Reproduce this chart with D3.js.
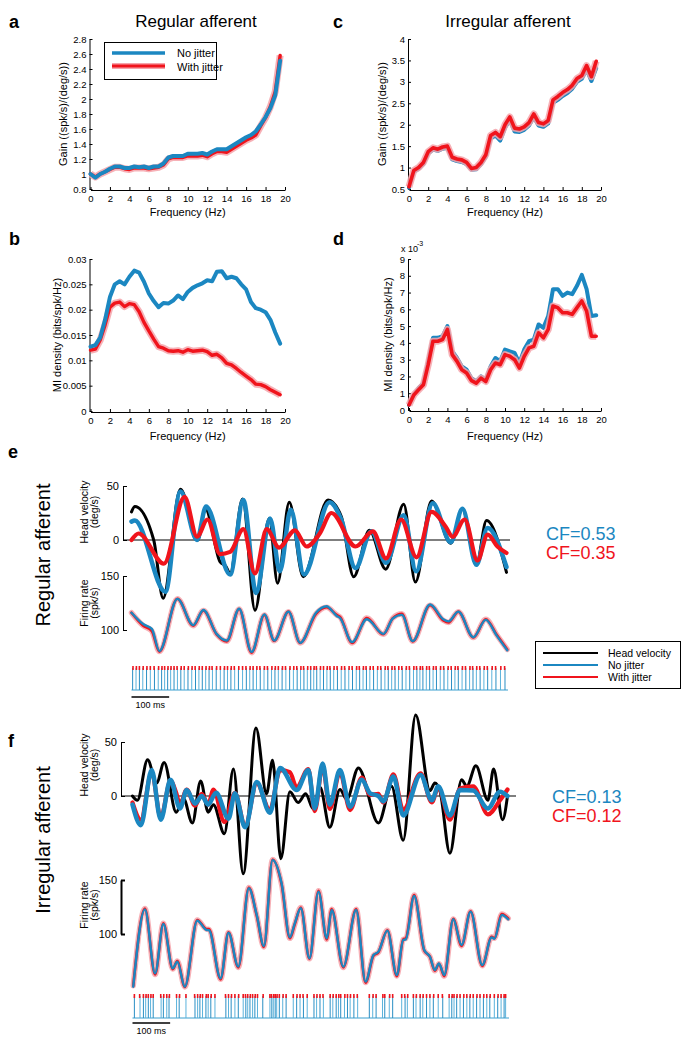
<!DOCTYPE html>
<html><head><meta charset="utf-8">
<script src="https://cdn.jsdelivr.net/npm/d3@7"></script>
<style>
body{margin:0;background:#fff}
text{font-family:"Liberation Sans",Arial,Helvetica,sans-serif;fill:#000}
</style>
</head><body>
<svg id="c" width="690" height="1043"></svg>
<script>
// ---------------- DATA ----------------
const freqs = [0,0.5,1,1.5,2,2.5,3,3.5,4,4.5,5,5.5,6,6.5,7,7.5,8,8.5,9,9.5,10,10.5,11,11.5,12,12.5,13,13.5,14,14.5,15,15.5,16,16.5,17,17.5,18,18.5,19,19.5];
const freqTicks = [0,2,4,6,8,10,12,14,16,18,20];

// a: gain, regular afferent
const gainRegNoJitter = [1.00,0.95,1.00,1.03,1.07,1.10,1.10,1.08,1.08,1.10,1.09,1.10,1.08,1.10,1.10,1.14,1.22,1.24,1.24,1.24,1.27,1.27,1.27,1.28,1.26,1.30,1.33,1.33,1.33,1.37,1.41,1.45,1.49,1.52,1.57,1.66,1.76,1.88,2.05,2.51];
const gainRegJitter   = [1.00,0.96,1.00,1.03,1.06,1.09,1.09,1.07,1.06,1.08,1.08,1.08,1.07,1.08,1.09,1.12,1.20,1.22,1.22,1.22,1.24,1.24,1.24,1.25,1.23,1.27,1.30,1.30,1.29,1.33,1.37,1.41,1.45,1.48,1.52,1.64,1.75,1.90,2.10,2.58];
const gainRegTicks = [0.8,1,1.2,1.4,1.6,1.8,2,2.2,2.4,2.6,2.8];

// b: MI density, regular afferent
const miRegNoJitter = [0.0127,0.0130,0.0145,0.0180,0.0225,0.0250,0.0256,0.0250,0.0265,0.0277,0.0273,0.0255,0.0232,0.0217,0.0205,0.0213,0.0212,0.0218,0.0228,0.0221,0.0235,0.0243,0.0248,0.0252,0.0258,0.0256,0.0275,0.0276,0.0262,0.0265,0.0262,0.0250,0.0240,0.0215,0.0203,0.0200,0.0195,0.0180,0.0155,0.0133];
const miRegJitter   = [0.0120,0.0122,0.0140,0.0170,0.0205,0.0213,0.0215,0.0206,0.0212,0.0210,0.0196,0.0175,0.0158,0.0142,0.0127,0.0124,0.0119,0.0118,0.0119,0.0116,0.0121,0.0118,0.0119,0.0120,0.0117,0.0110,0.0112,0.0105,0.0094,0.0091,0.0084,0.0076,0.0069,0.0062,0.0053,0.0052,0.0048,0.0042,0.0037,0.0032];
const miRegTicks = [0,0.005,0.01,0.015,0.02,0.025,0.03];

// c: gain, irregular afferent
const gainIrrNoJitter = [0.53,0.90,0.97,1.08,1.33,1.42,1.39,1.44,1.46,1.19,1.15,1.13,1.08,0.95,0.96,1.08,1.25,1.68,1.75,1.63,1.93,2.11,1.84,1.83,1.88,1.98,2.18,1.98,1.95,2.03,2.51,2.58,2.67,2.74,2.84,3.00,3.07,3.29,3.02,3.32];
const gainIrrJitter   = [0.55,0.93,1.00,1.12,1.37,1.46,1.43,1.48,1.50,1.24,1.20,1.18,1.12,0.98,1.00,1.12,1.30,1.75,1.82,1.72,2.00,2.18,1.92,1.90,1.95,2.05,2.25,2.05,2.02,2.10,2.58,2.66,2.75,2.82,2.92,3.08,3.15,3.38,3.12,3.48];
const gainIrrTicks = [0.5,1,1.5,2,2.5,3,3.5,4];

// d: MI density (x10^-3), irregular afferent
const miIrrNoJitter = [0.3,0.9,1.3,1.6,2.9,4.3,4.3,4.4,5.0,3.5,3.1,2.6,2.4,1.9,1.7,2.0,1.8,2.6,3.1,2.9,3.6,3.5,3.4,2.8,3.6,4.1,4.2,5.1,4.9,5.6,7.2,7.2,6.8,7.0,6.9,7.4,8.05,7.2,5.6,5.65];
const miIrrJitter   = [0.3,0.9,1.2,1.5,2.7,4.1,4.1,4.2,4.8,3.3,2.9,2.4,2.2,1.75,1.6,1.9,1.7,2.4,2.8,2.7,3.3,3.2,3.0,2.5,3.2,3.7,3.8,4.6,4.3,4.8,6.2,6.1,5.8,5.8,5.7,6.1,6.5,5.9,4.4,4.4];
const miIrrTicks = [0,1,2,3,4,5,6,7,8,9];

// e: regular afferent time traces (time ms, value)
const eHeadVelocity = [[0,26],[9,31],[59,0],[84,-54],[130,47],[176,0],[196,29],[235,-20],[250,-24],[262,-31],[295,38],[328,-65],[366,20],[388,-40],[419,35],[456,-34],[522,37],[557,22],[590,-34],[632,9],[675,-27],[723,33],[754,-39],[797,36],[848,-3],[879,29],[916,-23],[943,18],[996,-30]];
const eNoJitterEst = [[0,17],[9,18],[90,-48],[130,45],[174,0],[198,31],[262,-32],[297,37],[331,-49],[368,20],[394,-29],[423,28],[458,-32],[526,35],[557,19],[595,-26],[637,8],[676,-21],[723,23],[756,-29],[800,34],[848,-2],[879,29],[916,-23],[946,11],[996,-25]];
const eJitterEst = [[0,0],[19,6],[86,-22],[141,40],[174,3],[202,19],[235,-13],[262,-11],[297,10],[328,-31],[359,10],[392,-7],[434,9],[465,-6],[500,6],[531,25],[595,-6],[641,8],[676,-17],[716,19],[757,-16],[797,26],[835,12],[853,3],[885,19],[919,-19],[946,5],[972,-6],[996,-12]];
const eRateNoJitter = [[0,116],[31,105.5],[54,101],[74,80.6],[122,128.8],[164,104.5],[191,118.5],[226,96.4],[253,90.3],[286,119.7],[319,79.7],[353,114.5],[379,90.3],[417,117],[448,88.2],[490,116],[518,122],[545,113],[554,111],[586,88.8],[625,110],[669,96.4],[694,110.6],[718,114],[747,89.7],[793,123.6],[828,110],[842,108],[868,117],[908,93.3],[941,109.4],[970,94.8],[998,81.2]];
const eRateJitter   = [[0,116],[31,104],[54,99],[74,80],[122,129],[164,104],[191,118],[226,96],[253,89.5],[286,119.5],[319,79],[353,114],[379,90],[417,117],[448,88],[490,115],[518,121],[545,114],[554,112],[586,88],[625,111],[669,96],[694,111],[718,115],[747,89.5],[793,123],[828,109],[842,107],[868,117],[908,93],[941,110],[970,95.5],[998,82]];
const eSpikesNoJitter = [3,12,21,30,40,50,61,71,80,88,96,104,113,122,131,140,150,160,170,179,188,197,206,215,225,236,246,255,264,274,284,295,305,314,323,332,342,352,362,372,381,390,400,410,420,430,440,449,458,467,476,484,492,501,510,519,528,537,547,557,567,577,587,597,606,615,624,633,643,653,663,673,682,691,700,709,719,729,739,749,758,766,774,783,792,801,810,820,830,840,850,859,868,878,888,898,907,916,926,936,946,957,968,980,992];
const eSpikesJitter = [4,13,21,31,41,50,60,72,81,88,97,105,113,121,132,140,151,161,169,180,188,198,207,214,226,236,247,255,265,273,285,295,304,315,323,333,341,353,361,373,382,390,401,409,421,431,439,450,457,468,476,485,491,502,510,520,527,538,546,558,566,578,586,598,605,616,623,634,642,654,662,674,681,692,699,710,718,730,738,750,757,767,773,784,791,802,809,821,829,841,849,860,867,879,887,899,906,917,925,937,945,958,967,981,991];

// f: irregular afferent time traces
const fHeadVelocity = [[0,0],[13,-4],[40,33.5],[64,12],[84,31],[116,-15],[135,-2],[159,-25],[181,14],[201,-15],[215,-8],[244,-35],[268,25],[294,-72],[328,63],[356,2],[372,33],[394,-58],[418,4],[440,-6],[460,2],[480,-12],[498,8],[524,-29],[551,6],[569,-3],[600,26],[653,-25],[688,9],[719,-41],[752,75],[790,5],[803,12],[817,4],[843,-53],[874,15],[888,9],[912,28],[944,-4],[959,25],[983,-22],[996,0]];
const fNoJitterEst = [[0,-8],[22,-27],[51,24],[75,-22],[101,15],[126,-11.5],[144,5.6],[166,-7],[184,0],[201,-8],[222,3],[255,-21],[272,2.5],[299,-29],[330,13],[365,-15.5],[392,26],[436,5.6],[467,24],[484,-11.5],[505,30],[524,-8],[551,24],[578,-10],[609,15],[631,2.5],[653,0],[666,-5],[693,18],[719,-18],[765,19.5],[795,-4],[812,9],[843,-18],[870,5.6],[905,5],[944,-11.5],[976,4],[996,0]];
const fJitterEst = [[0,-6],[22,-22],[51,22],[75,-20],[101,14],[116,3],[126,-8],[144,6],[166,-9],[184,2],[201,-8],[215,6],[244,-24],[272,3],[299,-28],[330,12],[365,-13],[392,24],[418,22],[436,8],[467,25],[484,-14],[505,28],[524,-12],[551,22],[578,-13],[609,17],[631,1],[653,2],[666,-6],[693,20],[719,-13],[765,21],[795,-6],[812,8],[843,-22],[870,7],[905,9],[944,-17],[976,-4],[996,6]];
const fRateNoJitter = [[2,51.2],[33,122.8],[60,63.6],[82,109.3],[107,68.2],[119,74.4],[139,51.2],[172,112.3],[197,103.7],[203,103.5],[234,59],[255,101.2],[281,69.8],[309,142.3],[330,117.6],[349,88.9],[372,168.5],[396,146.9],[418,96.9],[431,109.9],[447,123.8],[470,77.5],[494,139.2],[516,96],[529,122.2],[560,69.8],[594,122.2],[619,55.9],[640,80.6],[653,83.6],[677,103.1],[702,62],[719,94.4],[726,95],[748,135.2],[775,85.2],[790,79],[803,66.7],[814,72.8],[828,62],[852,113.6],[874,89.8],[898,120.7],[929,71.3],[954,96.9],[961,95.5],[981,117.6],[998,113.6]];
const fRateJitter   = [[2,52],[33,123.5],[60,62.5],[82,110],[107,67.5],[119,75],[139,51],[172,113],[197,104.5],[203,104.5],[234,58],[255,101.5],[281,69],[309,143],[330,117],[349,88],[372,169],[396,146],[418,96],[431,109],[447,124.5],[470,77],[494,140],[516,95],[529,123],[560,69],[594,123],[619,55],[640,80],[653,83],[677,103.5],[702,61],[719,95],[726,96],[748,136],[775,84.5],[790,79],[803,66],[814,72.5],[828,61],[852,114],[874,89],[898,121],[929,70.5],[954,97.5],[961,96],[981,118.5],[998,114.5]];
const fSpikesNoJitter = [5,20,29,35,42,48,55,76,82,91,97,117,124,142,166,173,179,186,195,201,208,219,248,255,262,272,281,294,301,306,312,319,325,332,346,365,370,374,379,383,390,399,408,427,436,445,454,464,482,489,498,507,525,532,541,547,553,563,571,578,588,598,629,638,647,664,670,682,691,715,724,730,746,753,764,771,781,790,799,812,824,841,848,854,861,870,879,888,896,905,914,923,932,941,949,961,970,979,987,991];
const fSpikesJitter   = [5,19,29,36,42,49,55,75,83,91,98,117,125,142,165,173,180,186,196,201,209,219,247,255,263,272,282,294,300,306,313,319,326,332,347,365,369,375,379,384,390,400,408,427,437,445,453,464,482,490,498,506,525,533,541,548,553,564,571,579,588,597,629,639,647,665,670,683,691,715,723,731,746,754,764,772,781,790,800,812,823,841,849,854,862,870,880,888,897,905,915,923,933,941,950,961,971,979,987,991];

const hvTicks = [0,50];
const rateTicks = [100,150];

// ---------------- STYLE ----------------
const BLUE = "#1b87c1", RED = "#f0141c", PINK = "#f5a3aa", SPIKE = "#3b9fcf";
const FONT = '"Liberation Sans",Arial,Helvetica,sans-serif';
const svg = d3.select("#c");

function label(x, y, s, size, o = {}) {
  const t = svg.append("text").attr("x", x).attr("y", y).text(s)
    .style("font-size", size + "px").style("font-family", FONT)
    .attr("text-anchor", o.anchor || "start");
  if (o.bold) t.style("font-weight", "bold");
  if (o.fill) t.style("fill", o.fill);
  if (o.rot) t.attr("transform", `rotate(-90,${x},${y})`);
  return t;
}
function styleAxis(g, size) {
  g.selectAll(".domain").attr("stroke", "#000").attr("stroke-width", 1);
  g.selectAll(".tick line").attr("stroke", "#000");
  g.selectAll("text").style("font-size", size + "px").style("font-family", FONT).attr("fill", "#000");
  g.attr("font-family", null).attr("font-size", null);
}
const fmtNum = d => String(+d.toFixed(3));

// ---------------- FREQUENCY PANELS ----------------
function freqPanel(p) {
  const x = d3.scaleLinear().domain([0, 20]).range(p.xr);
  const y = d3.scaleLinear().domain(p.ydom).range(p.yr);
  const ga = svg.append("g").attr("transform", `translate(${p.xr[0] - 1},0)`)
    .call(d3.axisLeft(y).tickValues(p.yticks).tickFormat(fmtNum).tickSizeInner(-3).tickSizeOuter(0).tickPadding(3));
  styleAxis(ga, 9.5);
  const gb = svg.append("g").attr("transform", `translate(0,${p.yr[0] + 1})`)
    .call(d3.axisBottom(x).tickValues(freqTicks).tickFormat(fmtNum).tickSizeInner(-3).tickSizeOuter(0).tickPadding(5));
  styleAxis(gb, 9.5);
  label((p.xr[0] + p.xr[1]) / 2, p.xlabY, "Frequency  (Hz)", 11, {anchor: "middle"});
  label(p.ylabX, (p.yr[0] + p.yr[1]) / 2, p.ylab, 11, {anchor: "middle", rot: true});
  const line = vals => d3.line().x((d, i) => x(freqs[i])).y(d => y(d))(vals);
  p.series.forEach(s => {
    if (s.band) svg.append("path").attr("d", line(s.vals)).attr("fill", "none")
      .attr("stroke", PINK).attr("stroke-width", 7).attr("stroke-opacity", 0.85).attr("stroke-linejoin", "round");
    svg.append("path").attr("d", line(s.vals)).attr("fill", "none")
      .attr("stroke", s.color).attr("stroke-width", s.w).attr("stroke-linejoin", "round").attr("stroke-linecap", "round");
  });
}

freqPanel({xr: [90.5, 285], yr: [189, 39], ydom: [0.8, 2.8], yticks: gainRegTicks,
  ylab: "Gain  ((spk/s)/(deg/s))", ylabX: 67, xlabY: 216,
  series: [{vals: gainRegJitter, color: RED, w: 3.4, band: true}, {vals: gainRegNoJitter, color: BLUE, w: 4}]});
freqPanel({xr: [90.5, 285], yr: [411, 259], ydom: [0, 0.03], yticks: miRegTicks,
  ylab: "MI density (bits/spk/Hz)", ylabX: 61, xlabY: 440,
  series: [{vals: miRegJitter, color: RED, w: 3.4, band: true}, {vals: miRegNoJitter, color: BLUE, w: 4}]});
freqPanel({xr: [409, 601], yr: [189, 39], ydom: [0.5, 4], yticks: gainIrrTicks,
  ylab: "Gain  ((spk/s)/(deg/s))", ylabX: 386, xlabY: 216,
  series: [{vals: gainIrrNoJitter, color: BLUE, w: 4}, {vals: gainIrrJitter, color: RED, w: 3.6, band: true}]});
freqPanel({xr: [409, 601], yr: [410, 259], ydom: [0, 9], yticks: miIrrTicks,
  ylab: "MI density (bits/spk/Hz)", ylabX: 392, xlabY: 440,
  series: [{vals: miIrrNoJitter, color: BLUE, w: 4}, {vals: miIrrJitter, color: RED, w: 3.6, band: true}]});
label(401, 252, "x 10", 9);
label(417, 246, "-3", 7);

// legend in a
svg.append("rect").attr("x", 104.5).attr("y", 42.5).attr("width", 112).attr("height", 37)
  .attr("fill", "#fff").attr("stroke", "#000").attr("stroke-width", 1);
svg.append("line").attr("x1", 112).attr("x2", 165).attr("y1", 53).attr("y2", 53).attr("stroke", BLUE).attr("stroke-width", 3.5);
svg.append("line").attr("x1", 112).attr("x2", 165).attr("y1", 66).attr("y2", 66).attr("stroke", PINK).attr("stroke-width", 6);
svg.append("line").attr("x1", 112).attr("x2", 165).attr("y1", 66).attr("y2", 66).attr("stroke", RED).attr("stroke-width", 3);
label(177, 57, "No jitter", 11);
label(177, 71, "With jitter", 11);

// titles & panel letters
label(196, 27, "Regular afferent", 17, {anchor: "middle"});
label(508, 27, "Irregular afferent", 17, {anchor: "middle"});
label(9, 28, "a", 18, {bold: true});
label(9, 245, "b", 18, {bold: true});
label(333, 28, "c", 18, {bold: true});
label(333, 245, "d", 18, {bold: true});
label(8, 458, "e", 18, {bold: true});
label(8, 747, "f", 18, {bold: true});

// ---------------- TIME PANELS ----------------
function timePanel(p) {
  const t = d3.scaleLinear().domain([0, 1000]).range(p.tr);
  const hv = d3.scaleLinear().domain([0, 50]).range([p.hv0, p.hv50]);
  const fr = d3.scaleLinear().domain([100, 150]).range([p.fr100, p.fr150]);
  const a1 = svg.append("g").attr("transform", `translate(${p.axX},0)`)
    .call(d3.axisLeft(hv).tickValues(hvTicks).tickSizeInner(-4).tickSizeOuter(0).tickPadding(4));
  styleAxis(a1, 11);
  const a2 = svg.append("g").attr("transform", `translate(${p.axX},0)`)
    .call(d3.axisLeft(fr).tickValues(rateTicks).tickSizeInner(-4).tickSizeOuter(0).tickPadding(4));
  styleAxis(a2, 11);
  a2.selectAll(".domain").attr("stroke-width", p.frW);
  a2.selectAll(".tick line").attr("stroke-width", p.frW);
  label(88, p.hvLabY, "Head velocity", 10.5, {anchor: "middle", rot: true});
  label(98, p.hvLabY, "(deg/s)", 10.5, {anchor: "middle", rot: true});
  label(88, p.frLabY, "Firing rate", 10.5, {anchor: "middle", rot: true});
  label(98, p.frLabY, "(spk/s)", 10.5, {anchor: "middle", rot: true});
  svg.append("line").attr("x1", p.axX).attr("x2", p.zeroEnd).attr("y1", hv(0)).attr("y2", hv(0))
    .attr("stroke", "#000").attr("stroke-width", 1.2);
  const lh = d3.line().x(d => t(d[0])).y(d => hv(d[1])).curve(d3.curveMonotoneX);
  const lf = d3.line().x(d => t(d[0])).y(d => fr(d[1])).curve(d3.curveMonotoneX);
  const draw = (d, c, w, op) => svg.append("path").attr("d", d).attr("fill", "none").attr("stroke", c)
    .attr("stroke-width", w).attr("stroke-opacity", op || 1).attr("stroke-linejoin", "round").attr("stroke-linecap", "round");
  draw(lh(p.head), "#000", 3);
  p.order.forEach(k => {
    if (k === "blue") draw(lh(p.blue), BLUE, 4.5);
    else draw(lh(p.red), RED, 4.2);
  });
  draw(lf(p.rateRed), PINK, 5.5, 0.85);
  draw(lf(p.rateRed), RED, 2.6);
  draw(lf(p.rateBlue), BLUE, 2.4);
  svg.append("line").attr("x1", t(0)).attr("x2", t(1000)).attr("y1", p.rBase).attr("y2", p.rBase)
    .attr("stroke", SPIKE).attr("stroke-width", 1.2);
  svg.append("g").selectAll("line").data(p.spikes).join("line")
    .attr("x1", d => t(d)).attr("x2", d => t(d)).attr("y1", p.rBase).attr("y2", p.rTop)
    .attr("stroke", (d, i) => i % 2 ? "#5bb3dc" : "#2a8fc4").attr("stroke-width", 1);
  svg.append("g").selectAll("line").data(p.spikesJ).join("line")
    .attr("x1", d => t(d)).attr("x2", d => t(d)).attr("y1", p.rTop - 2).attr("y2", p.rTop + 2)
    .attr("stroke", RED).attr("stroke-width", 1.6);
  svg.append("line").attr("x1", t(0)).attr("x2", t(100)).attr("y1", p.sbY).attr("y2", p.sbY)
    .attr("stroke", "#000").attr("stroke-width", 1.6);
  label(t(0) + 4, p.sbY + 11, "100 ms", 9);
  label(p.cfX, p.cfY, p.cf1, 18, {fill: BLUE});
  label(p.cfX, p.cfY + 19, p.cf2, 18, {fill: RED});
}

timePanel({tr: [131.5, 508], axX: 123, hv0: 540, hv50: 486, fr100: 630, fr150: 576, frW: 1,
  hvLabY: 512, frLabY: 603, zeroEnd: 510,
  head: eHeadVelocity, blue: eNoJitterEst, red: eJitterEst, order: ["blue", "red"],
  rateBlue: eRateNoJitter, rateRed: eRateJitter,
  spikes: eSpikesNoJitter, spikesJ: eSpikesJitter, rBase: 690, rTop: 668, sbY: 697,
  cfX: 546, cfY: 540, cf1: "CF=0.53", cf2: "CF=0.35"});

timePanel({tr: [132.5, 509], axX: 121, hv0: 796, hv50: 742, fr100: 934, fr150: 880, frW: 2,
  hvLabY: 765, frLabY: 905, zeroEnd: 516,
  head: fHeadVelocity, blue: fNoJitterEst, red: fJitterEst, order: ["red", "blue"],
  rateBlue: fRateNoJitter, rateRed: fRateJitter,
  spikes: fSpikesNoJitter, spikesJ: fSpikesJitter, rBase: 1018, rTop: 996, sbY: 1023,
  cfX: 552, cfY: 803, cf1: "CF=0.13", cf2: "CF=0.12"});

// legend for e
svg.append("rect").attr("x", 535.5).attr("y", 641.5).attr("width", 145).attr("height", 47)
  .attr("fill", "#fff").attr("stroke", "#000").attr("stroke-width", 1);
[["Head velocity", "#000", 653], ["No jitter", BLUE, 665], ["With jitter", RED, 677]].forEach(([s, c, yy]) => {
  svg.append("line").attr("x1", 543).attr("x2", 598).attr("y1", yy).attr("y2", yy).attr("stroke", c).attr("stroke-width", 2);
  label(608, yy + 4, s, 10.5);
});

// side labels
label(50, 555, "Regular afferent", 20, {anchor: "middle", rot: true});
label(50, 840, "Irregular afferent", 20, {anchor: "middle", rot: true});
</script>
</body></html>
